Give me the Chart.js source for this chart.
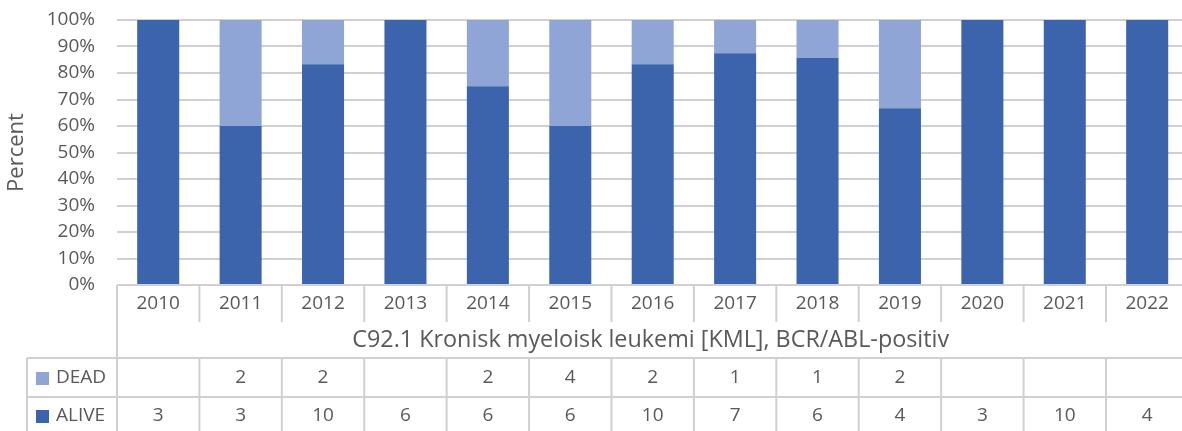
<!DOCTYPE html>
<html>
<head>
<meta charset="utf-8">
<script src="https://cdn.jsdelivr.net/npm/chart.js@4/dist/chart.umd.min.js"></script>
<style>
  html, body { margin: 0; padding: 0; background: #ffffff; overflow: hidden; }
  #wrap { position: relative; width: 1190px; height: 431px; }
</style>
</head>
<body>
<div id="wrap"><canvas id="c"></canvas></div>
<script>
const years = ['2010','2011','2012','2013','2014','2015','2016','2017','2018','2019','2020','2021','2022'];
const deadCounts  = [null, 2, 2, null, 2, 4, 2, 1, 1, 2, null, null, null];
const aliveCounts = [3, 3, 10, 6, 6, 6, 10, 7, 6, 4, 3, 10, 4];
const yTicks = [0, 10, 20, 30, 40, 50, 60, 70, 80, 90, 100];
const categoryTitle = 'C92.1 Kronisk myeloisk leukemi [KML], BCR/ABL-positiv';
const seriesNames = ['DEAD', 'ALIVE'];

const ALIVE_COLOR = '#3C64AD';
const DEAD_COLOR = '#8FA5D5';
const TEXT = '#595959';
const BORDER = '#D0D0D0';
const FONT = '"Open Sans", Lato, sans-serif';

const totals = aliveCounts.map((a, i) => a + (deadCounts[i] || 0));
const alivePct = aliveCounts.map((a, i) => a / totals[i] * 100);
const deadPct = deadCounts.map((d, i) => (d || 0) / totals[i] * 100);

const tablePlugin = {
  id: 'dataTable',
  afterDraw(chart) {
    const ctx = chart.ctx;
    const x = chart.scales.x;
    const area = chart.chartArea;
    const n = years.length;
    const half = (x.getPixelForValue(1) - x.getPixelForValue(0)) / 2;
    const yTop = area.bottom;        // 285
    const yYearBot = 322;
    const yTitleBot = 358;
    const yDeadBot = 397;
    const yAliveBot = 436;
    const legendLeft = 27;
    ctx.save();
    ctx.strokeStyle = BORDER;
    ctx.lineWidth = 2;
    const line = (x1, y1, x2, y2) => { ctx.beginPath(); ctx.moveTo(x1, y1); ctx.lineTo(x2, y2); ctx.stroke(); };
    // top axis line
    line(area.left, yTop, area.right + 5, yTop);
    // year separators
    for (let i = 0; i <= n; i++) {
      const bx = x.getPixelForValue(i) - half;
      line(bx, yTop, bx, yYearBot);
    }
    // left edge of category block
    line(area.left, yTop, area.left, yAliveBot);
    // data rows
    line(legendLeft, yTitleBot, area.right + 5, yTitleBot);
    line(legendLeft, yDeadBot, area.right + 5, yDeadBot);
    line(legendLeft, yTitleBot, legendLeft, yAliveBot);
    for (let i = 0; i <= n; i++) {
      const bx = x.getPixelForValue(i) - half;
      line(bx, yTitleBot, bx, yAliveBot);
    }
    // texts
    ctx.fillStyle = TEXT;
    ctx.textAlign = 'center';
    ctx.textBaseline = 'middle';
    ctx.font = '19px ' + FONT;
    years.forEach((yr, i) => {
      const cx = x.getPixelForValue(i);
      ctx.fillText(yr, cx, 304);
      if (deadCounts[i] !== null) ctx.fillText(String(deadCounts[i]), cx, 378);
      if (aliveCounts[i] !== null) ctx.fillText(String(aliveCounts[i]), cx, 416);
    });
    // category title fitted to the reference width
    let fs = 19;
    ctx.font = fs + 'px ' + FONT;
    const w = ctx.measureText(categoryTitle).width;
    fs = fs * 597 / w;
    ctx.font = fs.toFixed(2) + 'px ' + FONT;
    ctx.fillText(categoryTitle, (area.left + area.right) / 2 - 2, 340);
    // legend keys
    ctx.textAlign = 'left';
    ctx.font = '19px ' + FONT;
    ctx.fillStyle = DEAD_COLOR;
    ctx.fillRect(36, 372, 13, 13);
    ctx.fillStyle = ALIVE_COLOR;
    ctx.fillRect(36, 410, 13, 13);
    ctx.fillStyle = TEXT;
    ctx.fillText(seriesNames[0], 56, 378);
    ctx.fillText(seriesNames[1], 56, 416);
    ctx.restore();
  }
};

new Chart(document.getElementById('c'), {
  type: 'bar',
  data: {
    labels: years,
    datasets: [
      { label: seriesNames[1], data: alivePct, backgroundColor: ALIVE_COLOR, stack: 's', order: 1 },
      { label: seriesNames[0], data: deadPct, backgroundColor: DEAD_COLOR, stack: 's', order: 2 }
    ]
  },
  options: {
    responsive: true,
    maintainAspectRatio: false,
    animation: false,
    devicePixelRatio: 1,
    layout: { padding: { top: 20, bottom: 146, left: 0, right: 1.6 } },
    plugins: { legend: { display: false }, tooltip: { enabled: false } },
    datasets: { bar: { categoryPercentage: 0.51, barPercentage: 1.0 } },
    scales: {
      x: {
        stacked: true,
        display: false,
        grid: { display: false }
      },
      y: {
        stacked: true,
        min: 0,
        max: 100,
        afterFit(scale) {
          scale.width = 117;
          scale.paddingTop = 0;
          scale.paddingBottom = 0;
        },
        afterBuildTicks(scale) {
          scale.ticks = yTicks.map(v => ({ value: v }));
        },
        border: { display: false },
        grid: { color: BORDER, lineWidth: 2, drawTicks: false },
        ticks: {
          padding: 22,
          color: TEXT,
          font: { family: FONT, size: 19 },
          callback: v => v + '%'
        },
        title: {
          display: true,
          text: 'Percent',
          color: TEXT,
          font: { family: FONT, size: 22 },
          padding: { top: 4, bottom: 0 }
        }
      }
    }
  },
  plugins: [tablePlugin]
});
</script>
</body>
</html>
